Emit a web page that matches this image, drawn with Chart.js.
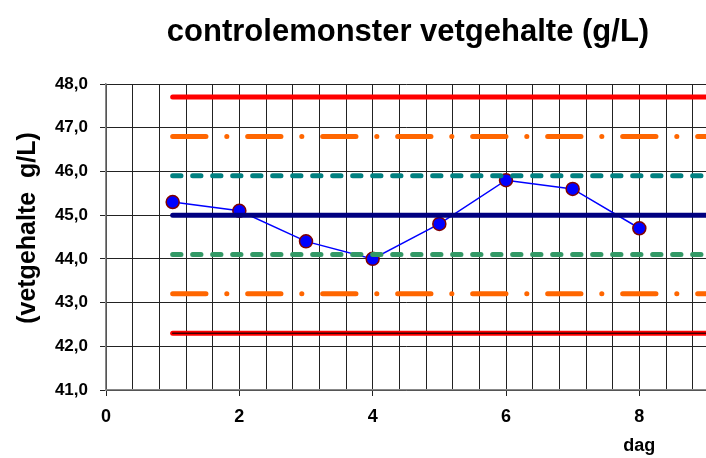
<!DOCTYPE html>
<html><head><meta charset="utf-8">
<script src="https://cdn.jsdelivr.net/npm/chart.js@4.4.1/dist/chart.umd.min.js"></script>
<style>html,body{margin:0;padding:0;background:#fff}#wrap{width:706px;height:458px}</style>
</head><body><div id="wrap"><canvas id="c" width="706" height="458"></canvas></div>
<script>
const titleText = 'controlemonster vetgehalte (g/L)';
const yAxisTitle = '(vetgehalte  g/L)';
const xAxisTitle = 'dag';
const days = [1, 2, 3, 4, 5, 6, 7, 8];
const fatValues = [45.3, 45.1, 44.4, 44.0, 44.8, 45.8, 45.6, 44.7];
const meanLine = 45.0;
const upper3 = 47.7, upper2 = 46.8, upper1 = 45.9;
const lower1 = 44.1, lower2 = 43.2, lower3 = 42.3;
const lineSpan = [1, 9];
const xTickLabels = [0, 2, 4, 6, 8];
const xGridStep = 0.4;
const yTicks = [41, 42, 43, 44, 45, 46, 47, 48];

const FONT = '"Liberation Sans", Arial, sans-serif';

function hline(v) { return lineSpan.map(x => ({x: x, y: v})); }

const dashed = [8.3, 11.7];
const dashDot = [33.3, 20.8, 0.1, 20.8];

function ctrl(v, color, width, dash, order) {
  return {
    data: hline(v), borderColor: color, borderWidth: width, borderDash: dash || [],
    borderCapStyle: 'round', pointRadius: 0, fill: false, order: order, tension: 0
  };
}

const datasets = [
  ctrl(upper3, '#ff0000', 5, null, 1),
  ctrl(upper2, '#ff6600', 5, dashDot, 1),
  ctrl(upper1, '#008080', 5, dashed, 1),
  ctrl(meanLine, '#000080', 5, null, 1),
  ctrl(lower1, '#339966', 5, dashed, 1),
  ctrl(lower2, '#ff6600', 5, dashDot, 1),
  ctrl(lower3, '#ff0000', 5, null, 2),
  ctrl(lower3, '#400000', 1.5, null, 0),
  {
    data: days.map((d, i) => ({x: d, y: fatValues[i]})),
    borderColor: '#0000ff', borderWidth: 1.5, pointRadius: 6.5, pointHoverRadius: 6.5,
    pointBackgroundColor: '#0000ff', pointBorderColor: '#800000', pointBorderWidth: 1.5,
    fill: false, order: 10, tension: 0
  }
];

const textPlugin = {
  id: 'texts',
  afterDraw(chart) {
    const {ctx, chartArea, scales} = chart;
    ctx.save();
    ctx.fillStyle = '#000';
    ctx.textAlign = 'center';
    ctx.textBaseline = 'alphabetic';
    ctx.font = 'bold 31px ' + FONT;
    ctx.fillText(titleText, (chartArea.left + chartArea.right) / 2 + 2, 41);
    ctx.font = 'bold 18px ' + FONT;
    ctx.fillText(xAxisTitle, scales.x.getPixelForValue(8), 451);
    ctx.translate(28, 228);
    ctx.rotate(-Math.PI / 2);
    ctx.textBaseline = 'middle';
    ctx.font = 'bold 25px ' + FONT;
    ctx.fillText(yAxisTitle, 0, 0);
    ctx.restore();
  }
};

new Chart(document.getElementById('c'), {
  type: 'line',
  data: { datasets },
  plugins: [textPlugin],
  options: {
    responsive: false, animation: false, devicePixelRatio: 1,
    layout: { autoPadding: false, padding: { top: 84, left: 0, right: 0, bottom: 0 } },
    plugins: { legend: { display: false }, tooltip: { enabled: false }, title: { display: false } },
    scales: {
      x: {
        type: 'linear', min: 0, max: lineSpan[1],
        afterBuildTicks(scale) {
          const t = [];
          for (let i = 0; i * xGridStep <= scale.max + 1e-9; i++) t.push({value: Math.round(i * xGridStep * 10) / 10});
          scale.ticks = t;
        },
        afterFit(scale) { scale.height = 68; scale.paddingRight = 0; scale.paddingLeft = 0; },
        ticks: {
          autoSkip: false, maxRotation: 0, padding: 10, color: '#000',
          font: { family: FONT, size: 18, weight: 'bold' },
          callback: (v) => xTickLabels.includes(v) ? String(v) : ''
        },
        grid: {
          color: '#222', lineWidth: 1, tickLength: 6,
          tickColor: (c) => (c.tick && xTickLabels.includes(c.tick.value)) ? '#222' : 'rgba(0,0,0,0)'
        },
        border: { color: '#888', width: 1.5 }
      },
      y: {
        min: 41, max: 48,
        afterBuildTicks(scale) { scale.ticks = yTicks.map(v => ({value: v})); },
        afterFit(scale) { scale.width = 106; scale.paddingTop = 0; scale.paddingBottom = 0; },
        ticks: {
          padding: 12, color: '#000',
          font: { family: FONT, size: 17, weight: 'bold' },
          callback: (v) => v.toFixed(1).replace('.', ',')
        },
        grid: { color: '#222', lineWidth: 1, tickLength: 6, tickColor: '#222' },
        border: { color: '#888', width: 1.5 },
        title: { display: false }
      }
    }
  }
});
</script></body></html>
